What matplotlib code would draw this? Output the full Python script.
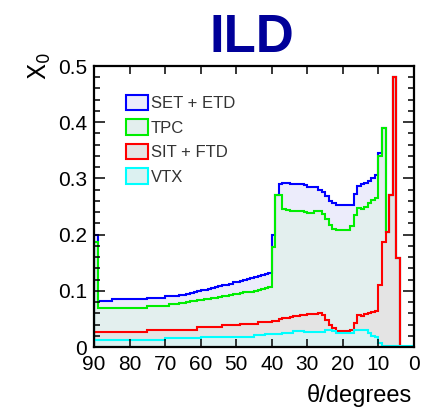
import numpy as np
import matplotlib
matplotlib.use("Agg")
import matplotlib.pyplot as plt
from matplotlib.patches import Patch

plt.rcParams['font.family'] = ['Liberation Sans', 'DejaVu Sans']

# material budget X0 per 1 degree bin, listed from theta = 90 down to 0
set_etd = [0.200, 0.0825, 0.0825, 0.0825, 0.0825, 0.0854, 0.0854, 0.0854, 0.0854, 0.0854,
           0.0854, 0.0854, 0.0854, 0.0854, 0.0854, 0.088, 0.088, 0.088, 0.088, 0.088,
           0.091, 0.091, 0.091, 0.091, 0.092, 0.093, 0.095, 0.096, 0.098, 0.099,
           0.101, 0.102, 0.104, 0.105, 0.107, 0.108, 0.110, 0.111, 0.113, 0.115,
           0.116, 0.118, 0.119, 0.121, 0.122, 0.124, 0.126, 0.128, 0.130, 0.131,
           0.200, 0.270, 0.290, 0.292, 0.292, 0.290, 0.290, 0.290, 0.290, 0.288,
           0.285, 0.284, 0.284, 0.280, 0.275, 0.268, 0.260, 0.256, 0.253, 0.253,
           0.253, 0.253, 0.253, 0.272, 0.287, 0.290, 0.291, 0.295, 0.300, 0.306,
           0.345, 0.389, 0.205, 0.270, 0.480, 0.159, 0.0, 0.0, 0.0, 0.0]
tpc = [0.187, 0.070, 0.070, 0.070, 0.070, 0.070, 0.070, 0.070, 0.070, 0.070,
       0.070, 0.070, 0.070, 0.070, 0.070, 0.073, 0.073, 0.073, 0.073, 0.073,
       0.073, 0.0765, 0.0765, 0.0765, 0.0777, 0.079, 0.080, 0.082, 0.082, 0.083,
       0.084, 0.085, 0.086, 0.087, 0.088, 0.089, 0.090, 0.091, 0.093, 0.094,
       0.095, 0.096, 0.097, 0.098, 0.098, 0.100, 0.101, 0.103, 0.105, 0.107,
       0.178, 0.270, 0.270, 0.245, 0.243, 0.2425, 0.2425, 0.2425, 0.242, 0.240,
       0.239, 0.239, 0.242, 0.242, 0.236, 0.227, 0.217, 0.210, 0.208, 0.208,
       0.208, 0.208, 0.215, 0.235, 0.247, 0.245, 0.250, 0.256, 0.262, 0.266,
       0.339, 0.389, 0.205, 0.270, 0.480, 0.159, 0.0, 0.0, 0.0, 0.0]
sit_ftd = [0.027, 0.027, 0.027, 0.027, 0.027, 0.027, 0.027, 0.027, 0.027, 0.027,
           0.027, 0.027, 0.027, 0.027, 0.027, 0.031, 0.031, 0.031, 0.031, 0.031,
           0.031, 0.031, 0.031, 0.031, 0.031, 0.031, 0.031, 0.031, 0.031, 0.035,
           0.035, 0.035, 0.035, 0.035, 0.035, 0.035, 0.039, 0.039, 0.039, 0.039,
           0.039, 0.041, 0.041, 0.041, 0.041, 0.041, 0.044, 0.044, 0.044, 0.045,
           0.046, 0.047, 0.050, 0.051, 0.051, 0.054, 0.055, 0.056, 0.057, 0.057,
           0.058, 0.059, 0.059, 0.060, 0.057, 0.048, 0.039, 0.033, 0.029, 0.029,
           0.029, 0.029, 0.030, 0.042, 0.057, 0.056, 0.058, 0.060, 0.062, 0.064,
           0.110, 0.186, 0.205, 0.270, 0.480, 0.159, 0.0, 0.0, 0.0, 0.0]
vtx = [0.013, 0.013, 0.013, 0.013, 0.013, 0.013, 0.013, 0.013, 0.013, 0.013,
       0.013, 0.013, 0.013, 0.013, 0.013, 0.013, 0.013, 0.013, 0.013, 0.013,
       0.016, 0.016, 0.016, 0.016, 0.016, 0.016, 0.016, 0.016, 0.016, 0.016,
       0.017, 0.017, 0.017, 0.017, 0.017, 0.017, 0.017, 0.017, 0.017, 0.017,
       0.018, 0.018, 0.018, 0.018, 0.018, 0.021, 0.021, 0.021, 0.023, 0.023,
       0.023, 0.023, 0.023, 0.025, 0.025, 0.025, 0.028, 0.028, 0.028, 0.026,
       0.026, 0.027, 0.027, 0.027, 0.027, 0.030, 0.030, 0.028, 0.025, 0.025,
       0.025, 0.025, 0.025, 0.030, 0.030, 0.030, 0.030, 0.025, 0.020, 0.018,
       0.007, 0.002, 0.002, 0.002, 0.002, 0.002, 0.002, 0.002, 0.002, 0.002]

labels = ["SET + ETD", "TPC", "SIT + FTD", "VTX"]
line_colors = ["#0000ff", "#00ee00", "#ff0000", "#00ffff"]
fill_colors = ["#ececfb", "#e3efee", "#e4e4e4", "#dcf1f1"]

edges = np.arange(0, 91)
series = [set_etd, tpc, sit_ftd, vtx]

fig = plt.figure(figsize=(4.30, 4.07), dpi=100)
ax = fig.add_axes([0.2186, 0.1474, 0.7442, 0.6904])

# fills first, then outlines on top
for vals, fc in zip(series, fill_colors):
    ax.stairs(np.array(vals)[::-1], edges, fill=True, color=fc, lw=0)
for vals, lc in zip(series, line_colors):
    ax.stairs(np.array(vals)[::-1], edges, color=lc, lw=1.5)

ax.set_xlim(90, 0)
ax.set_ylim(0, 0.5)
ax.set_xticks(np.arange(90, -1, -10))
ax.set_yticks([0, 0.1, 0.2, 0.3, 0.4, 0.5])
ax.set_yticklabels(["0", "0.1", "0.2", "0.3", "0.4", "0.5"])
ax.set_yticks(np.arange(0, 0.5, 0.02), minor=True)

for s in ax.spines.values():
    s.set_linewidth(1.6)
ax.tick_params(axis='both', which='both', direction='in', top=True, right=True,
               width=1.1, labelsize=15)
ax.tick_params(axis='y', which='major', length=8, pad=5)
ax.tick_params(axis='y', which='minor', length=4)
ax.tick_params(axis='x', which='major', length=6, pad=6)

ax.text(-0.17, 1.0, r"$\mathrm{X}_{0}$", transform=ax.transAxes, rotation=90,
        ha='center', va='center', fontsize=17)
ax.text(0.994, -0.172, "θ/degrees", transform=ax.transAxes, ha='right',
        va='center', fontsize=17)

handles = [Patch(facecolor=fc, edgecolor=lc, lw=1.5)
           for fc, lc in zip(fill_colors, line_colors)]
ax.legend(handles, labels, loc='upper left', bbox_to_anchor=(0.1, 0.897),
          frameon=False, fontsize=12, handlelength=1.3, handleheight=1.05,
          labelspacing=0.48, handletextpad=0.2, borderpad=0, borderaxespad=0,
          labelcolor='#333333')

fig.text(0.586, 0.872, "ILD", ha='center', va='baseline', fontsize=38,
         fontweight='bold', color='#000099')

fig.savefig("out.png", dpi=100)
